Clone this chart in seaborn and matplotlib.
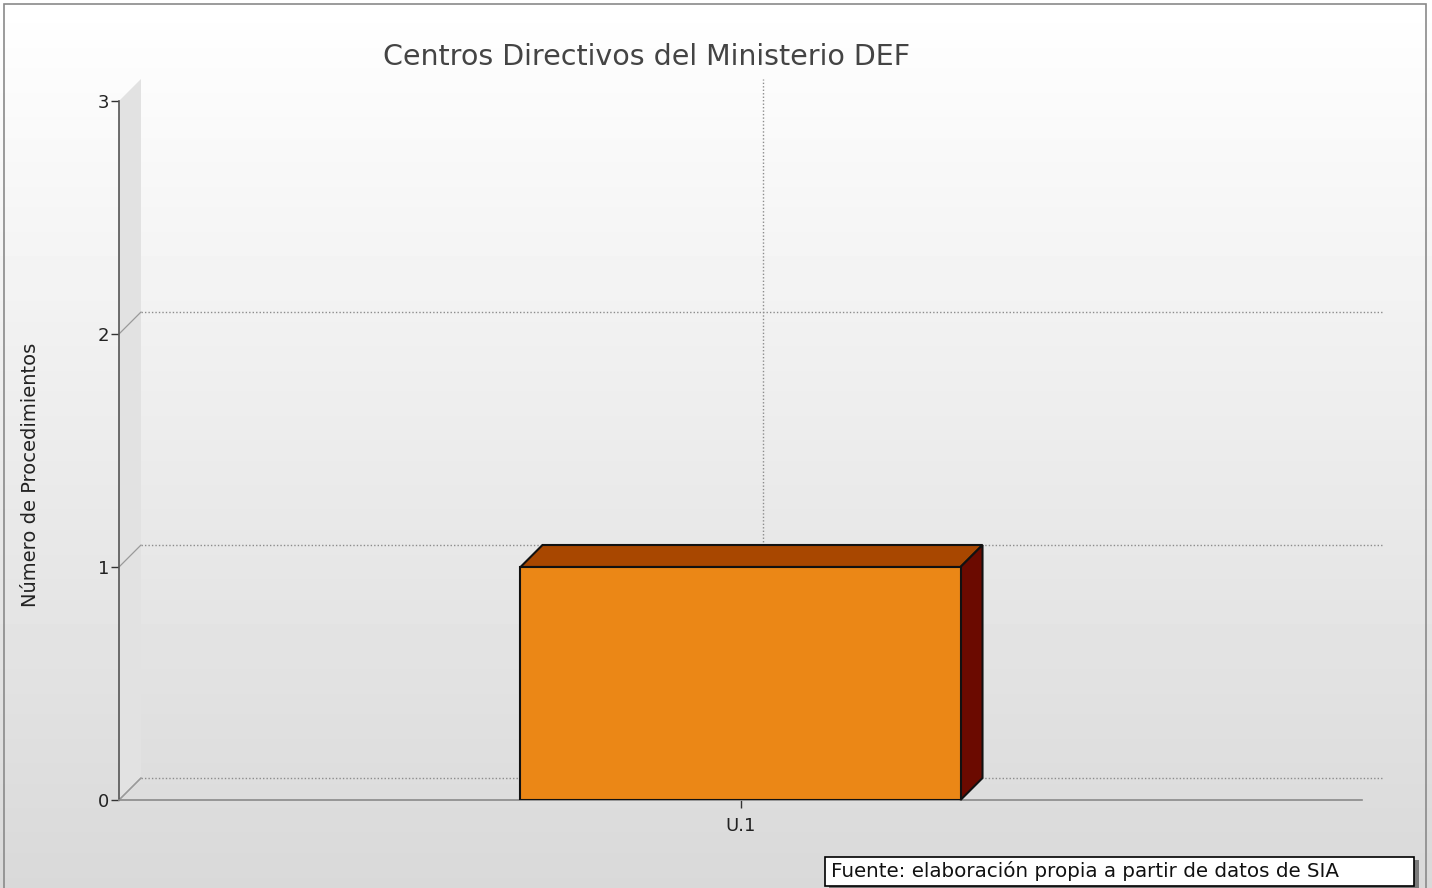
import numpy as np
import matplotlib
matplotlib.use("Agg")
import matplotlib.pyplot as plt
from matplotlib.patches import Polygon, Rectangle
import seaborn as sns

# chart data
categories = ["U.1"]
values = [1]
y_ticks = [0, 1, 2, 3]

title = "Centros Directivos del Ministerio DEF"
y_label = "Número de Procedimientos"
source_note = "Fuente: elaboración propia a partir de datos de SIA"

W, H = 1432, 888
DEPTH = 22  # 3d depth in pixels

sns.set_theme(style="white")
plt.rcParams["font.family"] = ["DejaVu Sans"]

fig = plt.figure(figsize=(W / 100, H / 100), dpi=100)

# gradient background
bg = fig.add_axes([0, 0, 1, 1], zorder=-5)
grad = np.linspace(1.0, 0.85, 256).reshape(-1, 1)
bg.imshow(grad, cmap="gray", vmin=0, vmax=1, aspect="auto", extent=[0, 1, 0, 1])
bg.set_axis_off()
bg.add_patch(Rectangle((4 / W, -0.01), 1422 / W, 1 - 3.5 / H + 0.01,
                       fill=False, ec="#8a8a8a", lw=1.2, transform=bg.transAxes))

# main axes (front plane)
x0, x1, ytop, ybot = 119, 1362, 101, 800
ax = fig.add_axes([x0 / W, 1 - ybot / H, (x1 - x0) / W, (ybot - ytop) / H])
ax.set_facecolor("none")

sns.barplot(x=categories, y=values, ax=ax, width=0.354, color="#eb8716",
            edgecolor="#111111", linewidth=1.5, saturation=1, zorder=5)
ax.set_xlim(-0.5, 0.5)
ax.set_ylim(0, 3)

# pixel depth in data units
ax_w = (x1 - x0)
ax_h = (ybot - ytop)
dx = DEPTH * 1.0 / ax_w
dy = DEPTH * 3.0 / ax_h

# left wall
wall = Polygon([(-0.5, 0), (-0.5, 3), (-0.5 + dx, 3 + dy), (-0.5 + dx, dy)],
               closed=True, fc="#e2e2e2", ec="none", clip_on=False, zorder=1)
ax.add_patch(wall)
ax.plot([-0.5, -0.5 + dx], [0, dy], color="#9a9a9a", lw=1, clip_on=False, zorder=2)
for t in y_ticks[:-1]:
    ax.plot([-0.5, -0.5 + dx], [t, t + dy], color="#9a9a9a", lw=0.9,
            clip_on=False, zorder=2)

# back gridlines
for t in y_ticks[:-1]:
    ax.plot([-0.5 + dx, 0.5 + dx], [t + dy, t + dy], color="#8c8c8c", lw=1,
            ls=(0, (1, 1.5)), clip_on=False, zorder=2)
for i in range(len(categories)):
    ax.plot([i + dx, i + dx], [dy, 3 + dy], color="#8c8c8c", lw=1,
            ls=(0, (1, 1.5)), clip_on=False, zorder=2)

# 3d faces of bars
for p in ax.patches:
    if p is wall:
        continue
    bx, by = p.get_x(), p.get_y()
    bw, bh = p.get_width(), p.get_height()
    top = Polygon([(bx, by + bh), (bx + dx, by + bh + dy), (bx + bw + dx, by + bh + dy),
                   (bx + bw, by + bh)], closed=True, fc="#a84700", ec="#111111",
                  lw=1.5, clip_on=False, zorder=4)
    side = Polygon([(bx + bw, by), (bx + bw + dx, by + dy), (bx + bw + dx, by + bh + dy),
                    (bx + bw, by + bh)], closed=True, fc="#6b0a00", ec="#111111",
                   lw=1.5, clip_on=False, zorder=4)
    ax.add_patch(top)
    ax.add_patch(side)

# axes styling
sns.despine(ax=ax, top=True, right=True)
ax.spines["left"].set_color("#555555")
ax.spines["left"].set_linewidth(1.2)
ax.spines["bottom"].set_color("#8a8a8a")
ax.spines["bottom"].set_linewidth(1.2)
ax.set_yticks(y_ticks)
ax.tick_params(axis="both", which="major", direction="out", length=6, width=1,
               color="#333333", labelcolor="#222222", labelsize=13,
               left=True, bottom=True)
ax.tick_params(axis="y", pad=1)
ax.tick_params(axis="x", pad=6)
ax.set_ylabel(y_label, fontsize=14, color="#222222")
ax.yaxis.set_label_coords((40 - x0) / ax_w, (ybot - 475) / ax_h)
ax.set_xlabel("")

fig.text(647 / W, 1 - 57 / H, title, ha="center", va="center", fontsize=20.5,
         color="#444444")

# source note box
fig.add_artist(Rectangle((829 / W, 1 - 889 / H), 590 / W, 29 / H, fc="#7a7a7a",
                         ec="none", transform=fig.transFigure, zorder=3))
fig.add_artist(Rectangle((825 / W, 1 - 886 / H), 589 / W, 29 / H, fc="white",
                         ec="black", lw=1.2, transform=fig.transFigure, zorder=4))
fig.text(831 / W, 1 - 871 / H, source_note, ha="left", va="center", fontsize=14.3,
         color="#111111", zorder=5)

fig.savefig("out.png", dpi=100)
